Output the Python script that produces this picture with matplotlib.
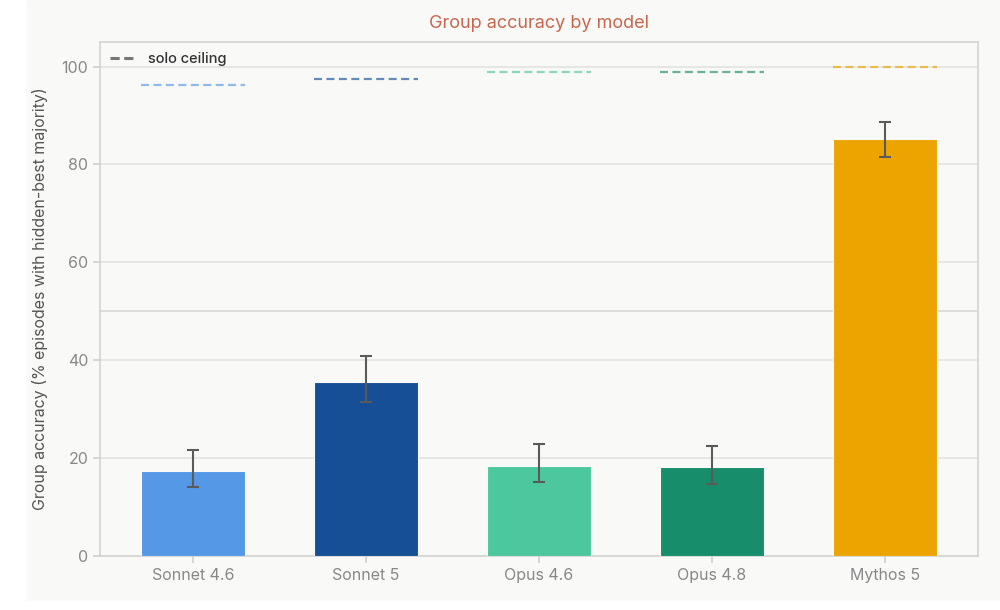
import matplotlib.pyplot as plt
from matplotlib.patches import Rectangle
from matplotlib.lines import Line2D

# data
models = ["Sonnet 4.6", "Sonnet 5", "Opus 4.6", "Opus 4.8", "Mythos 5"]
accuracy = [17.3, 35.6, 18.4, 18.1, 85.1]
err_low = [14.2, 31.4, 15.1, 14.8, 81.6]
err_high = [21.7, 40.8, 22.9, 22.5, 88.6]
solo_ceiling = [96.3, 97.4, 98.8, 98.8, 100.0]
colors = ["#5598e6", "#164f95", "#4dc79e", "#178d6b", "#eca400"]

plt.rcParams['font.family'] = ['Inter', 'DejaVu Sans']

bg = "#f9f9f8"
fig = plt.figure(figsize=(10, 6.1), dpi=100, facecolor=bg)
# white strips at the left and bottom edge like the screenshot
fig.patches.append(Rectangle((0, 0), 0.025, 1, transform=fig.transFigure, color="white", zorder=-1))
fig.patches.append(Rectangle((0, 0), 1, 9 / 610, transform=fig.transFigure, color="white", zorder=-1))

ax = fig.add_axes([0.10, 0.0885, 0.878, 0.8425])
ax.set_facecolor(bg)

x = list(range(len(models)))
yerr = [[a - lo for a, lo in zip(accuracy, err_low)],
        [hi - a for a, hi in zip(accuracy, err_high)]]

width = 0.6
ax.bar(x, accuracy, width=width, color=colors, edgecolor=bg, linewidth=0.8, zorder=3)
ax.errorbar(x, accuracy, yerr=yerr, fmt="none", ecolor="#5a5a5a", elinewidth=1.5,
            capsize=4, capthick=1.5, zorder=4)

# solo ceiling dashes above each bar
for xi, c, col in zip(x, solo_ceiling, colors):
    ax.hlines(c, xi - width / 2, xi + width / 2, colors=col, linestyles=(0, (3.6, 2.0)),
              linewidth=1.6, alpha=0.65, zorder=3)

ax.axhline(50, color="#d8d8d6", linewidth=1.2, zorder=1)

ax.set_xlim(-0.54, 4.54)
ax.set_ylim(0, 105)
ax.set_yticks([0, 20, 40, 60, 80, 100])
ax.set_xticks(x)
ax.set_xticklabels(models)
ax.grid(axis="y", color="#e3e3e1", linewidth=1.2, zorder=0)
ax.tick_params(colors="#cfcfcd", labelcolor="#888888", labelsize=11.5, length=5, width=1.2)

for s in ax.spines.values():
    s.set_color("#d3d3d1")
    s.set_linewidth(1.2)

ax.set_ylabel("Group accuracy (% episodes with hidden-best majority)", color="#555555",
              fontsize=11.5, labelpad=10)
ax.set_title("Group accuracy by model", color="#c8674d", fontsize=13, pad=10)

handle = Line2D([0], [0], color="#777777", linestyle=(0, (3, 1.5)), linewidth=2.2)
leg = ax.legend([handle], ["solo ceiling"], loc="upper left", frameon=False, fontsize=10.5,
                handlelength=1.8, borderaxespad=0.3)
for t in leg.get_texts():
    t.set_color("#333333")
    t.set_fontweight("medium")

fig.savefig("out.png", dpi=100, facecolor=fig.get_facecolor())
